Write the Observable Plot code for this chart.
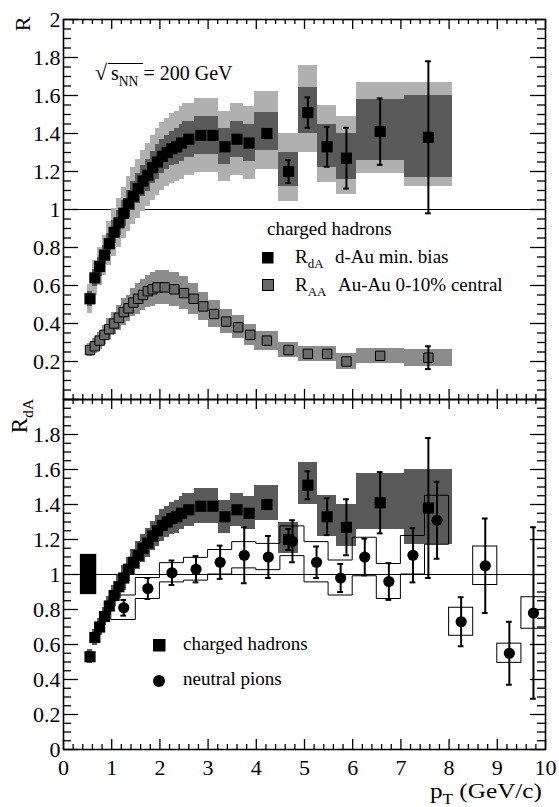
<!DOCTYPE html>
<html><head><meta charset="utf-8">
<script src="https://cdn.jsdelivr.net/npm/d3@7"></script>
<script src="https://cdn.jsdelivr.net/npm/@observablehq/plot@0.6"></script>
<style>
body{margin:0;background:#fff;}
#wrap{position:relative;width:559px;height:807px;font-family:"Liberation Serif","Times New Roman",serif;color:#000;overflow:hidden;}
#wrap svg{position:absolute;left:0;}
</style></head><body>
<div id="wrap"></div>
<script>
// ---------------- data ----------------
// charged hadrons, d-Au min. bias (R_dA)
const dAuPt = [0.55,0.65,0.75,0.85,0.95,1.05,1.15,1.25,1.35,1.45,1.55,1.65,1.75,1.85,1.95,2.05,2.15,2.25,2.35,2.45,2.6,2.85,3.1,3.35,3.6,3.85,4.22,4.67,5.07,5.47,5.87,6.57,7.57];
const dAuHalfBin = [0.05,0.05,0.05,0.05,0.05,0.05,0.05,0.05,0.05,0.05,0.05,0.05,0.05,0.05,0.05,0.05,0.05,0.05,0.05,0.05,0.125,0.125,0.125,0.125,0.125,0.125,0.25,0.2,0.2,0.2,0.2,0.5,0.5];
const dAuR = [0.53,0.64,0.70,0.76,0.82,0.88,0.93,0.98,1.03,1.07,1.11,1.15,1.18,1.22,1.25,1.28,1.30,1.32,1.33,1.35,1.37,1.39,1.39,1.33,1.37,1.35,1.40,1.20,1.51,1.33,1.27,1.41,1.38];
const dAuStat = [0,0,0,0,0,0,0,0,0,0,0,0,0,0,0,0,0,0,0,0,0,0,0,0,0,0,0,0.06,0.08,0.105,0.16,0.175,0.40];
// inner (dark) systematic band, minus / plus
const dAuSysInLo = [0.04,0.045,0.05,0.05,0.055,0.06,0.065,0.07,0.07,0.075,0.08,0.08,0.085,0.085,0.09,0.09,0.09,0.09,0.095,0.095,0.095,0.1,0.1,0.095,0.095,0.095,0.09,0.08,0.11,0.11,0.11,0.15,0.21];
const dAuSysInHi = [0.04,0.045,0.05,0.05,0.055,0.06,0.065,0.07,0.07,0.075,0.08,0.08,0.085,0.085,0.09,0.09,0.09,0.09,0.095,0.095,0.095,0.1,0.1,0.095,0.095,0.095,0.11,0.10,0.13,0.12,0.13,0.17,0.22];
// outer (light) band, minus / plus
const dAuSysOutLo = [0.075,0.09,0.1,0.105,0.115,0.125,0.13,0.135,0.145,0.15,0.155,0.16,0.165,0.17,0.175,0.18,0.18,0.185,0.185,0.19,0.19,0.195,0.195,0.185,0.19,0.19,0.19,0.16,0.21,0.19,0.19,0.22,0.26];
const dAuSysOutHi = [0.075,0.09,0.1,0.105,0.115,0.125,0.13,0.135,0.145,0.15,0.155,0.16,0.165,0.17,0.175,0.18,0.18,0.185,0.185,0.19,0.19,0.195,0.195,0.185,0.19,0.19,0.22,0.20,0.25,0.22,0.22,0.26,0.29];

// charged hadrons, Au-Au 0-10% central (R_AA)
const auPt = [0.55,0.65,0.75,0.85,0.95,1.05,1.15,1.25,1.35,1.45,1.55,1.65,1.75,1.85,1.95,2.1,2.3,2.5,2.7,2.9,3.125,3.375,3.625,3.875,4.22,4.67,5.07,5.47,5.87,6.57,7.57];
const auHalfBin = [0.05,0.05,0.05,0.05,0.05,0.05,0.05,0.05,0.05,0.05,0.05,0.05,0.05,0.05,0.05,0.1,0.1,0.1,0.1,0.1,0.125,0.125,0.125,0.125,0.25,0.2,0.2,0.2,0.2,0.5,0.5];
const auR = [0.26,0.28,0.31,0.34,0.37,0.40,0.43,0.46,0.48,0.51,0.53,0.55,0.57,0.58,0.59,0.59,0.58,0.56,0.53,0.49,0.45,0.41,0.38,0.34,0.31,0.26,0.24,0.24,0.20,0.23,0.22];
const auSys = [0.035,0.04,0.045,0.05,0.055,0.06,0.065,0.07,0.07,0.075,0.08,0.08,0.085,0.09,0.09,0.09,0.09,0.085,0.08,0.075,0.07,0.065,0.06,0.055,0.05,0.04,0.04,0.04,0.04,0.04,0.045];
const auStat = [0,0,0,0,0,0,0,0,0,0,0,0,0,0,0,0,0,0,0,0,0,0,0,0,0,0,0,0,0,0,0.06];

// neutral pions, d-Au (R_dA)
const piPt = [1.25,1.75,2.25,2.75,3.25,3.75,4.25,4.75,5.25,5.75,6.25,6.75,7.25,7.75,8.25,8.75,9.25,9.75];
const piHalfBin = [0.25,0.25,0.25,0.25,0.25,0.25,0.25,0.25,0.25,0.25,0.25,0.25,0.25,0.25,0.25,0.25,0.25,0.25];
const piR = [0.81,0.92,1.01,1.03,1.07,1.11,1.10,1.19,1.07,0.98,1.10,0.96,1.11,1.31,0.73,1.05,0.55,0.78];
const piStat = [0.045,0.06,0.07,0.075,0.095,0.16,0.12,0.12,0.09,0.08,0.105,0.105,0.155,0.22,0.14,0.27,0.18,0.49];
const piSys = [0.07,0.06,0.055,0.065,0.07,0.075,0.075,0.085,0.115,0.10,0.11,0.10,0.11,0.14,0.08,0.11,0.055,0.09];

// normalization uncertainty box
const normPt = [0.52];
const normHalf = [0.17];
const normLo = [0.885];
const normHi = [1.115];

// axis ticks / labels
const xMajor = [0,1,2,3,4,5,6,7,8,9,10];
const xTickLabels = [0,1,2,3,4,5,6,7,8,9,10];
const yMajor = [0,0.2,0.4,0.6,0.8,1,1.2,1.4,1.6,1.8,2];
const yTickLabelsTop = [0.2,0.4,0.6,0.8,1,1.2,1.4,1.6,1.8,2];
const yTickLabelsBottom = [0,0.2,0.4,0.6,0.8,1,1.2,1.4,1.6,1.8];
const xMinor = d3.range(0, 10.0001, 0.2).filter(v => Math.abs(v - Math.round(v)) > 1e-6);
const yMinor = d3.range(0, 2.0001, 0.05).filter(v => Math.abs(v/0.2 - Math.round(v/0.2)) > 1e-6);

// ---------------- tables ----------------
const dAu = dAuPt.map((x, i) => ({x, r: dAuR[i], hw: dAuHalfBin[i], st: dAuStat[i],
  iLo: dAuR[i]-dAuSysInLo[i], iHi: dAuR[i]+dAuSysInHi[i],
  oLo: dAuR[i]-dAuSysOutLo[i], oHi: dAuR[i]+dAuSysOutHi[i]}));
const au = auPt.map((x, i) => ({x, r: auR[i], hw: auHalfBin[i], st: auStat[i], lo: auR[i]-auSys[i], hi: auR[i]+auSys[i]}));
const pi = piPt.map((x, i) => ({x, r: piR[i], hw: piHalfBin[i], st: piStat[i], lo: piR[i]-piSys[i], hi: piR[i]+piSys[i]}));
const piLow = pi.filter(d => d.x < 8);
const piHigh = pi.filter(d => d.x > 8);
const piStairs = piLow.flatMap(d => [{x: d.x - d.hw, lo: d.lo, hi: d.hi}, {x: d.x + d.hw, lo: d.lo, hi: d.hi}]);
const norm = normPt.map((x, i) => ({x1: x - normHalf[i], x2: x + normHalf[i], lo: normLo[i], hi: normHi[i]}));

const LIGHT = "#b0b0b0", DARK = "#5a5a5a", AUBAND = "#8c8c8c", AUFILL = "#6a6a6a";
const W = 559, ML = 63, MR = 14, PW = W - ML - MR;

// inward ROOT-style ticks on all four sides; pixel lengths converted to data units
function frameTicks(plotH) {
  const kx = 10 / PW, ky = 2 / plotH, sw = 1.3;
  const m = [];
  for (const [vals, len] of [[yMajor, 15], [yMinor, 8]]) {
    m.push(Plot.ruleY(vals, {y: d => d, x1: 0, x2: len * kx, stroke: "black", strokeWidth: sw}));
    m.push(Plot.ruleY(vals, {y: d => d, x1: 10 - len * kx, x2: 10, stroke: "black", strokeWidth: sw}));
  }
  for (const [vals, len] of [[xMajor, 10], [xMinor, 5]]) {
    m.push(Plot.ruleX(vals, {x: d => d, y1: 0, y2: len * ky, stroke: "black", strokeWidth: sw}));
    m.push(Plot.ruleX(vals, {x: d => d, y1: 2 - len * ky, y2: 2, stroke: "black", strokeWidth: sw}));
  }
  return m;
}

function labelAxes(withXLabels, yLabels) {
  const m = [
    Plot.axisY({ticks: yLabels, anchor: "left", tickSize: 0, tickPadding: 3, tickFormat: d3.format("~g"), label: null}),
    Plot.frame({stroke: "black", strokeWidth: 1.6})
  ];
  if (withXLabels) m.push(Plot.axisX({ticks: xTickLabels, anchor: "bottom", tickSize: 0, tickPadding: 10, tickFormat: d3.format("~g"), label: null}));
  return m;
}

function errBars(data, w) {
  const d = data.filter(v => v.st > 0);
  return [
    Plot.ruleX(d, {x: "x", y1: v => v.r - v.st, y2: v => v.r + v.st, strokeWidth: w}),
    Plot.ruleY(d, {y: v => v.r - v.st, x1: v => v.x - 0.06, x2: v => v.x + 0.06, strokeWidth: w}),
    Plot.ruleY(d, {y: v => v.r + v.st, x1: v => v.x - 0.06, x2: v => v.x + 0.06, strokeWidth: w})
  ];
}

const style = {fontFamily: "'Liberation Serif', 'Times New Roman', serif", fontSize: "22px", background: "transparent", overflow: "visible", color: "black"};

const topPlot = Plot.plot({
  width: W, height: 400, marginLeft: ML, marginRight: MR, marginTop: 19, marginBottom: 1,
  x: {domain: [0, 10], axis: null}, y: {domain: [0, 2]}, style,
  marks: [
    Plot.ruleY([1], {strokeWidth: 1}),
    Plot.rect(dAu, {x1: d => d.x - d.hw, x2: d => d.x + d.hw, y1: "oLo", y2: "oHi", fill: LIGHT, shapeRendering: "crispEdges"}),
    Plot.rect(dAu, {x1: d => d.x - d.hw, x2: d => d.x + d.hw, y1: "iLo", y2: "iHi", fill: DARK, shapeRendering: "crispEdges"}),
    Plot.rect(au, {x1: d => d.x - d.hw, x2: d => d.x + d.hw, y1: "lo", y2: "hi", fill: AUBAND, shapeRendering: "crispEdges"}),
    Plot.dot(au, {x: "x", y: "r", symbol: "square", r: 5.3, fill: AUFILL, stroke: "black", strokeWidth: 1}),
    Plot.dot(dAu, {x: "x", y: "r", symbol: "square", r: 6.3, fill: "black"}),
    ...errBars(dAu, 2),
    ...errBars(au, 2),
    ...frameTicks(380),
    ...labelAxes(false, yTickLabelsTop)
  ]
});

const bottomPlot = Plot.plot({
  width: W, height: 418, marginLeft: ML, marginRight: MR, marginTop: 10, marginBottom: 58,
  x: {domain: [0, 10]}, y: {domain: [0, 2]}, style,
  marks: [
    Plot.ruleY([1], {strokeWidth: 1}),
    Plot.rect(dAu, {x1: d => d.x - d.hw, x2: d => d.x + d.hw, y1: "iLo", y2: "iHi", fill: DARK, shapeRendering: "crispEdges"}),
    Plot.rect(norm, {x1: "x1", x2: "x2", y1: "lo", y2: "hi", fill: "black"}),
    Plot.dot(dAu, {x: "x", y: "r", symbol: "square", r: 6.3, fill: "black"}),
    ...errBars(dAu, 2),
    Plot.areaY(piStairs, {x: "x", y1: "lo", y2: "hi", fill: "none", stroke: "black", strokeWidth: 1}),
    Plot.rect(piHigh, {x1: d => d.x - d.hw, x2: d => d.x + d.hw, y1: "lo", y2: "hi", fill: "none", stroke: "black", strokeWidth: 1}),
    ...errBars(pi, 2),
    Plot.dot(pi, {x: "x", y: "r", r: 5.6, fill: "black"}),
    ...frameTicks(350),
    ...labelAxes(true, yTickLabelsBottom)
  ]
});

const wrap = document.getElementById("wrap");
topPlot.style.top = "0px";
bottomPlot.style.top = "389px";
wrap.appendChild(topPlot);
wrap.appendChild(bottomPlot);

// ---------------- text overlay ----------------
const ov = d3.select(wrap).append("svg")
  .attr("width", W).attr("height", 807)
  .style("top", "0px")
  .attr("font-family", "'Liberation Serif', 'Times New Roman', serif");

function subText(parent, x, y, parts, size, attrs = {}) {
  const t = parent.append("text").attr("x", x).attr("y", y).attr("font-size", size);
  for (const [k, v] of Object.entries(attrs)) t.attr(k, v);
  for (const p of parts) {
    const s = t.append("tspan").text(p.t);
    if (p.sub) s.attr("font-size", size * 0.68).attr("dy", size * 0.28);
    if (p.up) s.attr("dy", -size * 0.28);
  }
  return t;
}

// y labels
ov.append("text").attr("transform", "translate(30,24) rotate(-90)").attr("text-anchor", "middle")
  .attr("font-size", 22).text("R");
subText(ov, 0, 0, [{t: "R"}, {t: "dA", sub: true}], 23, {transform: "translate(27,416) rotate(-90)", "text-anchor": "middle"});

// sqrt(s_NN) = 200 GeV
ov.append("text").attr("x", 95).attr("y", 80).attr("font-size", 22).text("\u221A");
ov.append("line").attr("x1", 108).attr("x2", 143).attr("y1", 63.5).attr("y2", 63.5).attr("stroke", "black").attr("stroke-width", 1.2);
subText(ov, 111, 80, [{t: "s"}, {t: "NN", sub: true}, {t: " = 200 GeV", up: true}], 20);

// top legend
ov.append("text").attr("x", 267).attr("y", 235).attr("font-size", 19).text("charged hadrons");
ov.append("rect").attr("x", 262).attr("y", 252).attr("width", 11.5).attr("height", 11.5).attr("fill", "black");
subText(ov, 295, 263, [{t: "R"}, {t: "dA", sub: true}], 19);
ov.append("text").attr("x", 335).attr("y", 263).attr("font-size", 19).text("d-Au min. bias");
ov.append("rect").attr("x", 262.5).attr("y", 279.5).attr("width", 11).attr("height", 11).attr("fill", AUFILL).attr("stroke", "black").attr("stroke-width", 1);
subText(ov, 295, 291, [{t: "R"}, {t: "AA", sub: true}], 19);
ov.append("text").attr("x", 338).attr("y", 291).attr("font-size", 19).text("Au-Au 0-10% central");

// bottom legend
ov.append("rect").attr("x", 153).attr("y", 639).attr("width", 12.5).attr("height", 12.5).attr("fill", "black");
ov.append("text").attr("x", 183).attr("y", 650).attr("font-size", 19).text("charged hadrons");
ov.append("circle").attr("cx", 159).attr("cy", 681).attr("r", 6).attr("fill", "black");
ov.append("text").attr("x", 183).attr("y", 685).attr("font-size", 19).text("neutral pions");

// x label (horizontally widened like the reference font)
subText(ov, 0, 0, [{t: "p"}, {t: "T", sub: true}, {t: " (GeV/c)", up: true}], 21,
  {transform: "translate(430,798) scale(1.2,1)"});
</script>
</body></html>
